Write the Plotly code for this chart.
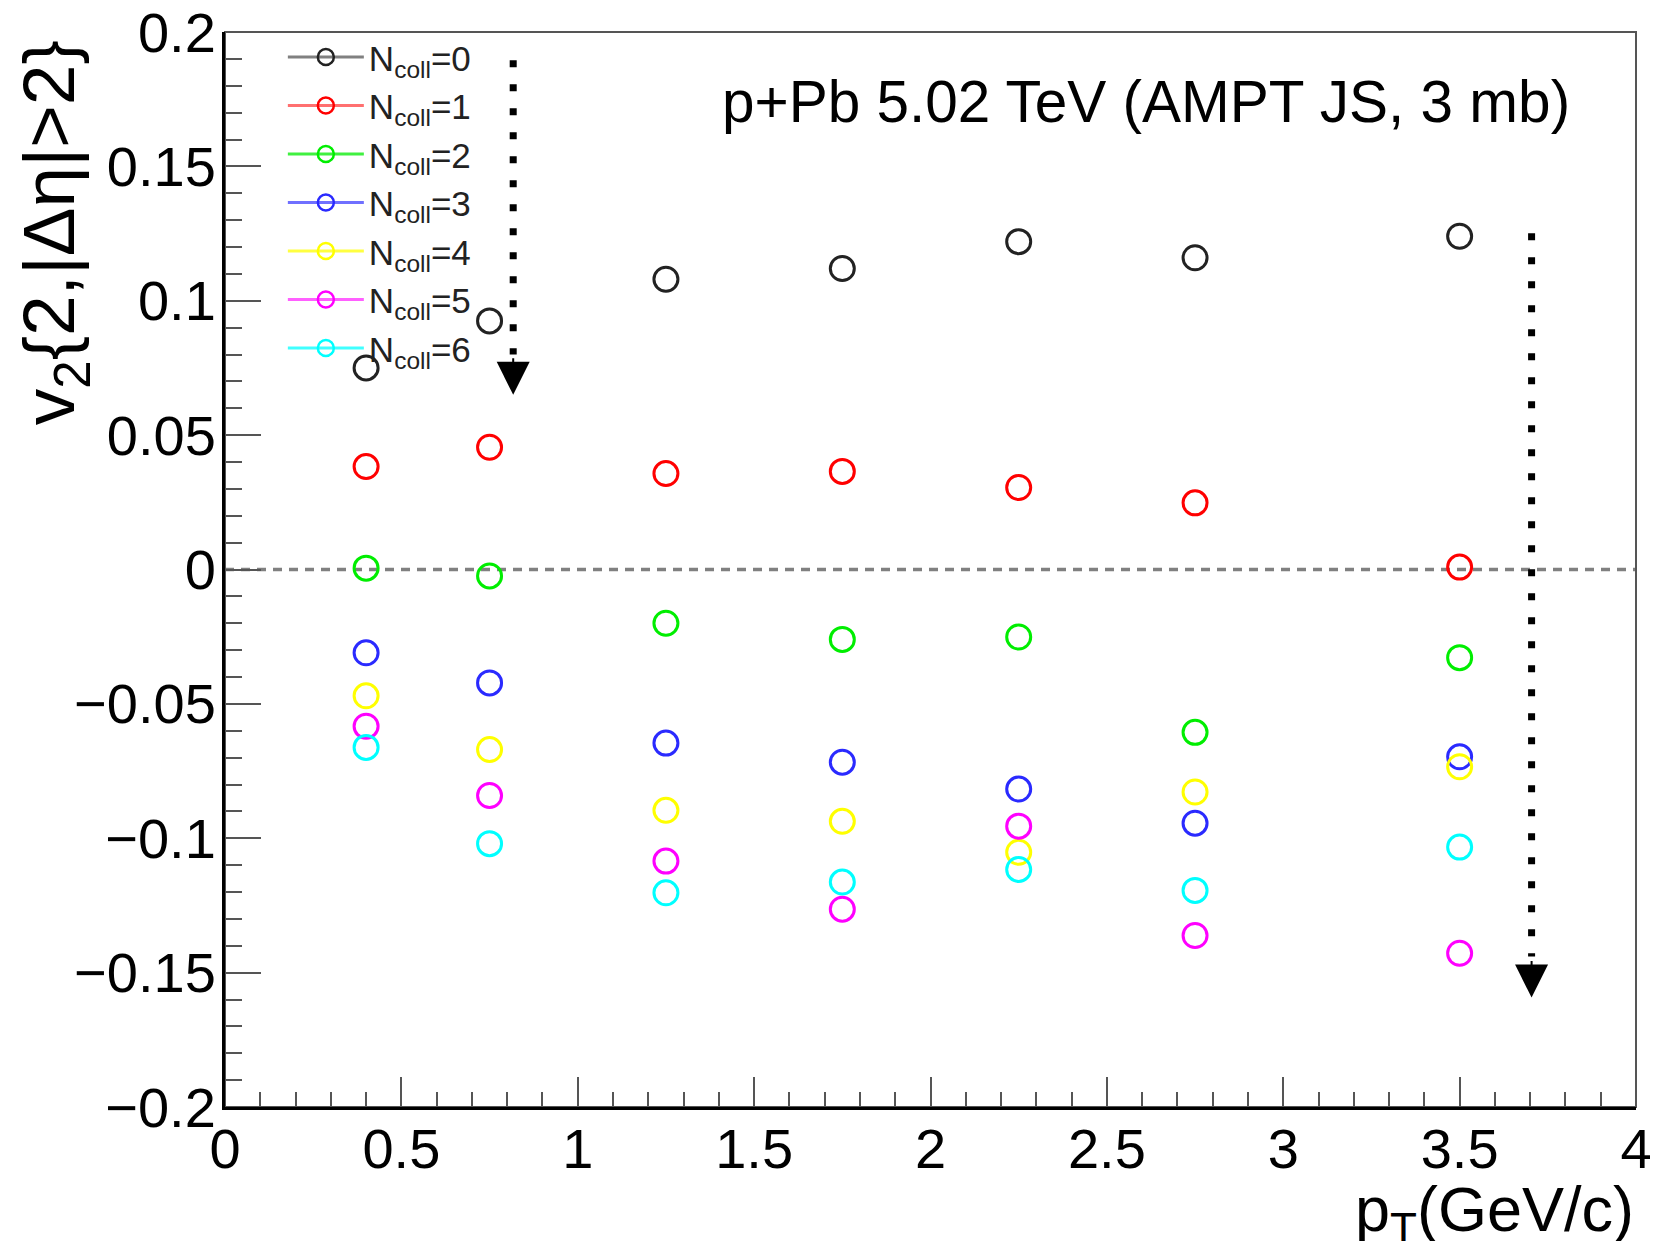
import plotly.graph_objects as go

# ---------------- data ----------------
pt = [0.4, 0.75, 1.25, 1.75, 2.25, 2.75, 3.5]
v2_ncoll0 = [0.075, 0.0925, 0.108, 0.112, 0.122, 0.116, 0.124]
v2_ncoll1 = [0.0383, 0.0455, 0.0357, 0.0365, 0.0305, 0.0248, 0.0009]
v2_ncoll2 = [0.0005, -0.0024, -0.0200, -0.0260, -0.0251, -0.0606, -0.0328]
v2_ncoll3 = [-0.0310, -0.0422, -0.0646, -0.0717, -0.0817, -0.0944, -0.0697]
v2_ncoll4 = [-0.0470, -0.0670, -0.0896, -0.0937, -0.1052, -0.0828, -0.0734]
v2_ncoll5 = [-0.0583, -0.0841, -0.1085, -0.1264, -0.0955, -0.1362, -0.1428]
v2_ncoll6 = [-0.0662, -0.1020, -0.1203, -0.1163, -0.1116, -0.1194, -0.1033]

series_names = ["N<sub>coll</sub>=0", "N<sub>coll</sub>=1", "N<sub>coll</sub>=2",
                "N<sub>coll</sub>=3", "N<sub>coll</sub>=4", "N<sub>coll</sub>=5",
                "N<sub>coll</sub>=6"]
series_values = [v2_ncoll0, v2_ncoll1, v2_ncoll2, v2_ncoll3, v2_ncoll4, v2_ncoll5, v2_ncoll6]

# arrows (x, top of dotted line, end of dotted line, arrow tip)
arrow1 = dict(x=0.817, y_top=0.1895, y_end=0.080, y_tip=0.065)
arrow2 = dict(x=3.704, y_top=0.1251, y_end=-0.144, y_tip=-0.1593)

# ---------------- style ----------------
marker_colors = ["#222222", "#ff0000", "#00ee00", "#2a2aff", "#ffff00", "#ff00ff", "#00ffff"]
legend_line_colors = ["#808080", "#ff7070", "#40f040", "#7070ff", "#ffff40", "#ff60ff", "#40ffff"]
FONT = "Liberation Sans, Arial, Helvetica, sans-serif"

fig = go.Figure()

for name, vals, mc in zip(series_names, series_values, marker_colors):
    fig.add_trace(go.Scatter(
        x=pt, y=vals, mode="markers", showlegend=False,
        marker=dict(symbol="circle-open", size=24, color=mc, line=dict(width=3, color=mc)),
    ))

# legend entries (ROOT "lp" style)
for name, mc, lc in zip(series_names, marker_colors, legend_line_colors):
    fig.add_trace(go.Scatter(
        x=[None], y=[None], mode="lines+markers", name=name,
        line=dict(color=lc, width=3),
        marker=dict(symbol="circle-open", size=16, color=mc, line=dict(width=2.5, color=mc)),
    ))

# dotted arrows
for a in (arrow1, arrow2):
    fig.add_trace(go.Scatter(
        x=[a["x"], a["x"]], y=[a["y_top"], a["y_end"]], mode="lines", showlegend=False,
        line=dict(color="black", width=7, dash="7px,17px"), hoverinfo="skip",
    ))
    fig.add_annotation(
        x=a["x"], y=a["y_tip"], xref="x", yref="y", text="", showarrow=True,
        ax=0, ay=-38, axref="pixel", ayref="pixel",
        arrowhead=2, arrowsize=3.3, arrowwidth=2, arrowcolor="black", standoff=0,
    )

# zero dashed line
fig.add_shape(type="line", xref="paper", yref="y", x0=0, x1=1, y0=0, y1=0,
              line=dict(color="#808080", width=3.5, dash="9px,7px"), layer="below")
# frame
fig.add_shape(type="rect", xref="paper", yref="paper", x0=0, x1=1, y0=0, y1=1,
              line=dict(color="#555555", width=2), layer="below")

# text
fig.add_annotation(
    x=0.3505, y=0.9353, xref="paper", yref="paper", xanchor="left", yanchor="middle",
    text="p+Pb 5.02 TeV (AMPT JS, 3 mb)", showarrow=False,
    font=dict(family=FONT, size=58.5, color="black"),
)
fig.add_annotation(
    x=-0.121, y=0.813, xref="paper", yref="paper", xanchor="center", yanchor="middle",
    text="v<sub>2</sub>{2,|Δη|>2}", textangle=-90, showarrow=False,
    font=dict(family=FONT, size=73, color="black"),
)
fig.add_annotation(
    x=1.0, y=-0.06, xref="paper", yref="paper", xanchor="right", yanchor="top",
    text="p<sub>T</sub>(GeV/c)", showarrow=False,
    font=dict(family=FONT, size=63, color="black"),
)

fig.update_layout(
    width=1677, height=1241, autosize=False,
    margin=dict(l=225, r=41, t=32, b=134, autoexpand=False),
    paper_bgcolor="white", plot_bgcolor="white",
    font=dict(family=FONT, color="black"),
    showlegend=True,
    legend=dict(
        x=0.041, y=1.004, xanchor="left", yanchor="top",
        bgcolor="rgba(0,0,0,0)", borderwidth=0, itemwidth=76,
        font=dict(family=FONT, size=35, color="#222222"),
        tracegroupgap=0,
    ),
    xaxis=dict(
        range=[0, 4], tick0=0, dtick=0.5, showgrid=False, zeroline=False,
        showline=True, linecolor="black", linewidth=3, automargin=False,
        ticks="inside", ticklen=30, tickwidth=2, tickcolor="#555555",
        tickfont=dict(family=FONT, size=56, color="black"),
        ticklabelstandoff=-9,
        minor=dict(dtick=0.1, ticks="inside", ticklen=15, tickwidth=2, tickcolor="#555555", showgrid=False),
    ),
    yaxis=dict(
        range=[-0.2, 0.2], tick0=0, dtick=0.05, showgrid=False, zeroline=False,
        showline=True, linecolor="black", linewidth=3, automargin=False,
        ticks="inside", ticklen=36, tickwidth=2, tickcolor="#555555",
        tickfont=dict(family=FONT, size=56, color="black"),
        ticklabelstandoff=-5,
        minor=dict(dtick=0.01, ticks="inside", ticklen=17, tickwidth=2, tickcolor="#555555", showgrid=False),
    ),
)

fig.write_html("out.html")
